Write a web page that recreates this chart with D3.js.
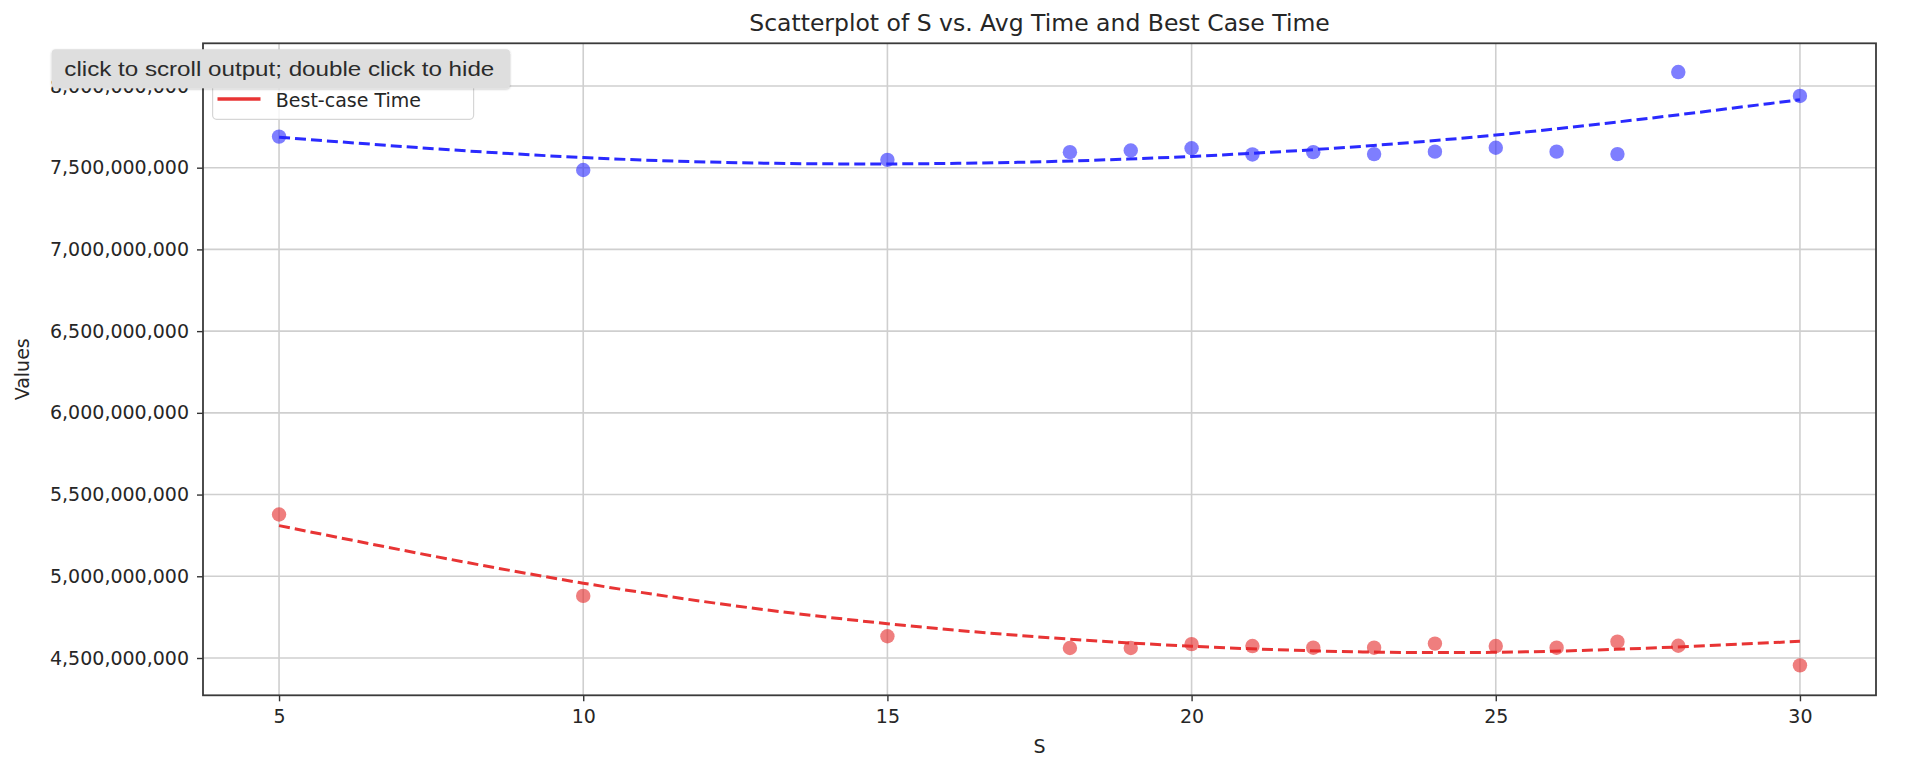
<!DOCTYPE html>
<html>
<head>
<meta charset="utf-8">
<script src="https://cdn.jsdelivr.net/npm/d3@7"></script>
<style>
  html, body { margin: 0; padding: 0; background: #fff; }
  svg { display: block; }
</style>
</head>
<body>
<svg id="chart" width="1906" height="778"></svg>
<script>
// ---- data ----
const sValues = [5, 10, 15, 18, 19, 20, 21, 22, 23, 24, 25, 26, 27, 28, 30];
const avgTime = [7.690e9, 7.486e9, 7.548e9, 7.595e9, 7.605e9, 7.619e9, 7.581e9, 7.595e9,
                 7.583e9, 7.598e9, 7.622e9, 7.598e9, 7.583e9, 8.085e9, 7.939e9];
const bestTime = [5.378e9, 4.880e9, 4.633e9, 4.561e9, 4.561e9, 4.585e9, 4.573e9, 4.563e9,
                  4.563e9, 4.588e9, 4.573e9, 4.563e9, 4.600e9, 4.575e9, 4.455e9];
// trend (fitted) curves read at these S values
const fitS = [5, 10, 15, 20, 25, 30];
const avgFit = [7.686e9, 7.562e9, 7.523e9, 7.569e9, 7.700e9, 7.916e9];
const bestFit = [5.310e9, 4.958e9, 4.710e9, 4.572e9, 4.535e9, 4.602e9];
const xTicks = [5, 10, 15, 20, 25, 30];
const yTicks = [4.5e9, 5.0e9, 5.5e9, 6.0e9, 6.5e9, 7.0e9, 7.5e9, 8.0e9];
const legendLabels = ["Average-case Time", "Best-case Time"];
const titleText = "Scatterplot of S vs. Avg Time and Best Case Time";
const xLabel = "S";
const yLabel = "Values";
const tooltipText = "click to scroll output; double click to hide";

// ---- layout ----
const L = 203, R = 1876, T = 43.3, B = 695.3;
const svg = d3.select("#chart");
const FONT = "DejaVu Sans, sans-serif";
const TICKSIZE = 19;

const x = d3.scaleLinear().domain([3.75, 31.25]).range([L, R]);
const y = d3.scaleLinear().domain([4.2718e9, 8.261e9]).range([B, T]);

// grid
const grid = svg.append("g");
grid.selectAll(".vg").data(xTicks).join("line")
  .attr("x1", d => x(d)).attr("x2", d => x(d)).attr("y1", T).attr("y2", B)
  .attr("stroke", "#cfcfcf").attr("stroke-width", 1.6);
grid.selectAll(".hg").data(yTicks).join("line")
  .attr("x1", L).attr("x2", R).attr("y1", d => y(d)).attr("y2", d => y(d))
  .attr("stroke", "#cfcfcf").attr("stroke-width", 1.6);

// axes
const xAxis = d3.axisBottom(x).tickValues(xTicks).tickFormat(d3.format("d")).tickSize(6).tickPadding(8);
const yAxis = d3.axisLeft(y).tickValues(yTicks).tickFormat(d3.format(",")).tickSize(6).tickPadding(8);
const gx = svg.append("g").attr("transform", `translate(0,${B})`).call(xAxis);
const gy = svg.append("g").attr("transform", `translate(${L},0)`).call(yAxis);
[gx, gy].forEach(g => {
  g.select(".domain").remove();
  g.selectAll(".tick line").attr("stroke", "#333").attr("stroke-width", 1.4);
  g.selectAll(".tick text").attr("font-family", FONT).attr("font-size", TICKSIZE).attr("fill", "#262626");
});

// spines
svg.append("rect").attr("x", L).attr("y", T).attr("width", R - L).attr("height", B - T)
  .attr("fill", "none").attr("stroke", "#3a3a3a").attr("stroke-width", 1.8);

// trend lines
const line = d3.line().x(d => x(d[0])).y(d => y(d[1])).curve(d3.curveNatural);
svg.append("path").datum(fitS.map((s, i) => [s, avgFit[i]])).attr("d", line)
  .attr("fill", "none").attr("stroke", "#2a2aff").attr("stroke-width", 3).attr("stroke-dasharray", "11,5");
svg.append("path").datum(fitS.map((s, i) => [s, bestFit[i]])).attr("d", line)
  .attr("fill", "none").attr("stroke", "#e83434").attr("stroke-width", 3).attr("stroke-dasharray", "11,5");

// scatter points
svg.append("g").selectAll("circle").data(sValues.map((s, i) => [s, avgTime[i]])).join("circle")
  .attr("cx", d => x(d[0])).attr("cy", d => y(d[1])).attr("r", 7.2)
  .attr("fill", "rgb(40,40,255)").attr("fill-opacity", 0.6);
svg.append("g").selectAll("circle").data(sValues.map((s, i) => [s, bestTime[i]])).join("circle")
  .attr("cx", d => x(d[0])).attr("cy", d => y(d[1])).attr("r", 7.2)
  .attr("fill", "rgb(228,40,40)").attr("fill-opacity", 0.6);

// title and labels
svg.append("text").attr("x", (L + R) / 2).attr("y", 31).attr("text-anchor", "middle")
  .attr("font-family", FONT).attr("font-size", 23.5).attr("fill", "#262626").text(titleText);
svg.append("text").attr("x", (L + R) / 2).attr("y", 752.5).attr("text-anchor", "middle")
  .attr("font-family", FONT).attr("font-size", TICKSIZE).attr("fill", "#262626").text(xLabel);
svg.append("text").attr("transform", `translate(29,${(T + B) / 2}) rotate(-90)`).attr("text-anchor", "middle")
  .attr("font-family", FONT).attr("font-size", TICKSIZE).attr("fill", "#262626").text(yLabel);

// legend
const legendColors = ["#2a2aff", "#e83434"];
const lg = svg.append("g");
lg.append("rect").attr("x", 212.6).attr("y", 52).attr("width", 261).attr("height", 67.3).attr("rx", 4)
  .attr("fill", "#fff").attr("fill-opacity", 0.8).attr("stroke", "#d6d6d6").attr("stroke-width", 1.2);
legendLabels.forEach((lab, i) => {
  const yy = 73 + i * 26;
  lg.append("line").attr("x1", 217.5).attr("x2", 260.5).attr("y1", yy).attr("y2", yy)
    .attr("stroke", legendColors[i]).attr("stroke-width", 3.6);
  lg.append("text").attr("x", 275.8).attr("y", yy + 7.5).attr("font-family", FONT)
    .attr("font-size", TICKSIZE).attr("fill", "#262626").text(lab);
});

// notebook tooltip overlay
const defs = svg.append("defs");
const f = defs.append("filter").attr("id", "sh").attr("x", "-5%").attr("y", "-20%").attr("width", "110%").attr("height", "150%");
f.append("feDropShadow").attr("dx", 0).attr("dy", 1).attr("stdDeviation", 1.2).attr("flood-color", "#000").attr("flood-opacity", 0.25);
svg.append("rect").attr("x", 51.7).attr("y", 49.3).attr("width", 458.3).attr("height", 39).attr("rx", 4)
  .attr("fill", "#dedede").attr("filter", "url(#sh)");
svg.append("text").attr("x", 64.3).attr("y", 76).attr("font-family", "Liberation Sans, Arial, sans-serif")
  .attr("font-size", 20).attr("fill", "#2b2b2b").text(tooltipText)
  .attr("textLength", 430).attr("lengthAdjust", "spacingAndGlyphs");
</script>
</body>
</html>
